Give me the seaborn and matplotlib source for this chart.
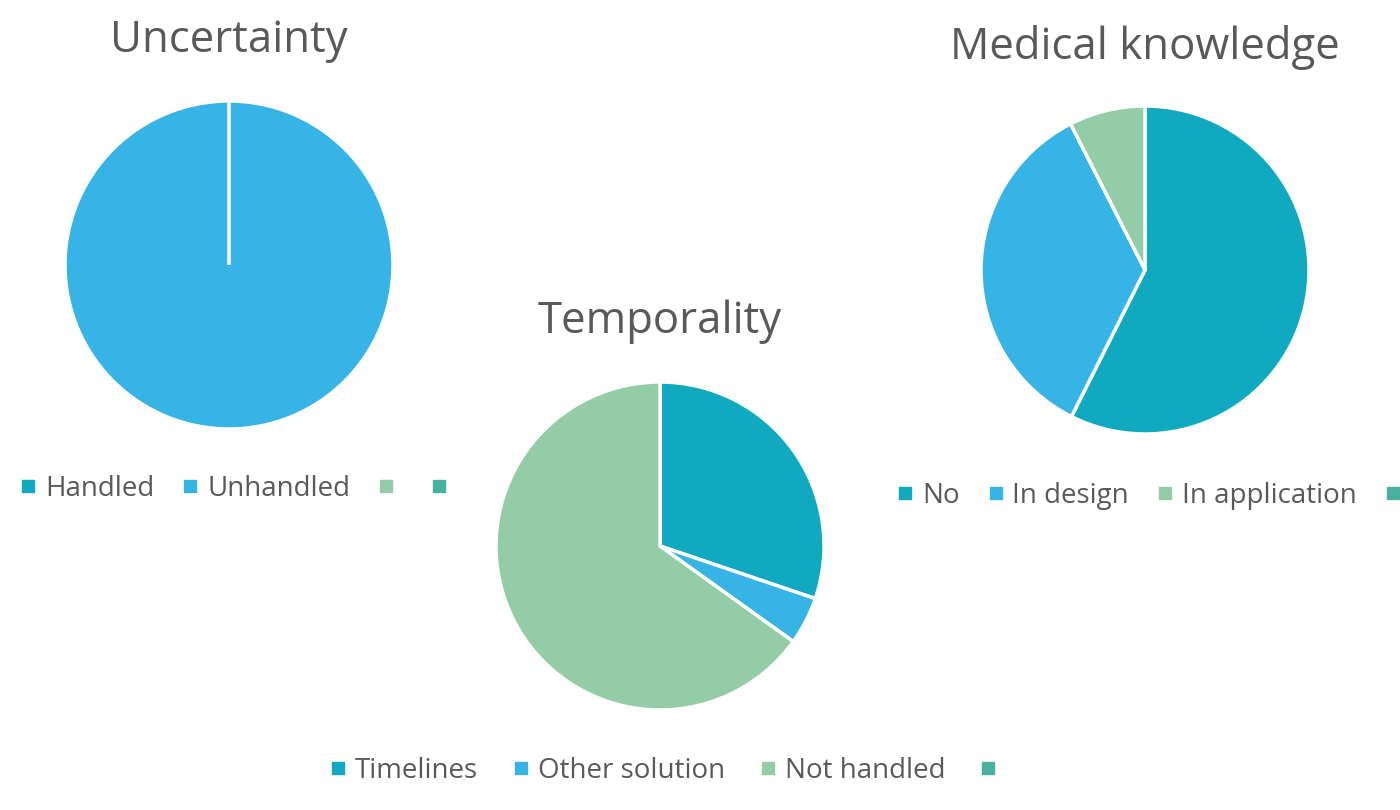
import matplotlib
matplotlib.use("Agg")
from matplotlib import pyplot as plt
from matplotlib.lines import Line2D
import seaborn as sns

# colours of the office-style palette
colors = ["#10A9BF", "#37B4E6", "#95CCA8", "#48B29F"]

# Uncertainty
unc_labels = ["Handled", "Unhandled", "", ""]
unc_values = [0, 100]

# Temporality
tem_labels = ["Timelines", "Other solution", "Not handled", ""]
tem_values = [30.2, 4.7, 65.1]

# Medical knowledge
med_labels = ["No", "In design", "In application", ""]
med_values = [57.4, 35.1, 7.5]

sns.set_theme(style="white")
plt.rcParams["font.family"] = ["Open Sans", "DejaVu Sans"]
text_col = "#595959"

W, H = 1400, 810
fig = plt.figure(figsize=(14, 8.1), dpi=100)


def pie(cx, cy, r, values, title, ty):
    ax = fig.add_axes([(cx - r) / W, (H - cy - r) / H, 2 * r / W, 2 * r / H])
    wedges, _ = ax.pie(values, colors=colors[:len(values)], startangle=90,
                       counterclock=False, radius=1,
                       wedgeprops=dict(edgecolor="white", linewidth=2.5, clip_on=False))
    # empty slices keep their white edge on top, as in the original
    for w, v in zip(wedges, values):
        if v == 0:
            w.set_zorder(5)
    ax.set_xlim(-1, 1)
    ax.set_ylim(-1, 1)
    ax.set_aspect("equal")
    ax.axis("off")
    fig.text(cx / W, 1 - ty / H, title, ha="center", va="center",
             fontsize=31.5, color=text_col)


def legend(x, y, labels, colsp=1.0):
    handles = [Line2D([], [], marker="s", linestyle="none", markersize=9,
                      markerfacecolor=c, markeredgecolor=c) for c in colors]
    fig.legend(handles, labels, loc="center left", bbox_to_anchor=(x / W, 1 - y / H),
               ncol=4, frameon=False, fontsize=20, labelcolor=text_col,
               handlelength=0.6, handletextpad=0.3, columnspacing=colsp,
               borderpad=0, borderaxespad=0)


pie(229, 265, 164, unc_values, "Uncertainty", 41)
legend(20, 489, unc_labels)

pie(660, 546, 164, tem_values, "Temporality", 322)
legend(330, 771, tem_labels, colsp=1.25)

pie(1145, 270, 164, med_values, "Medical knowledge", 47)
legend(897, 496, med_labels)

fig.savefig("out.png", dpi=100, facecolor="white")
